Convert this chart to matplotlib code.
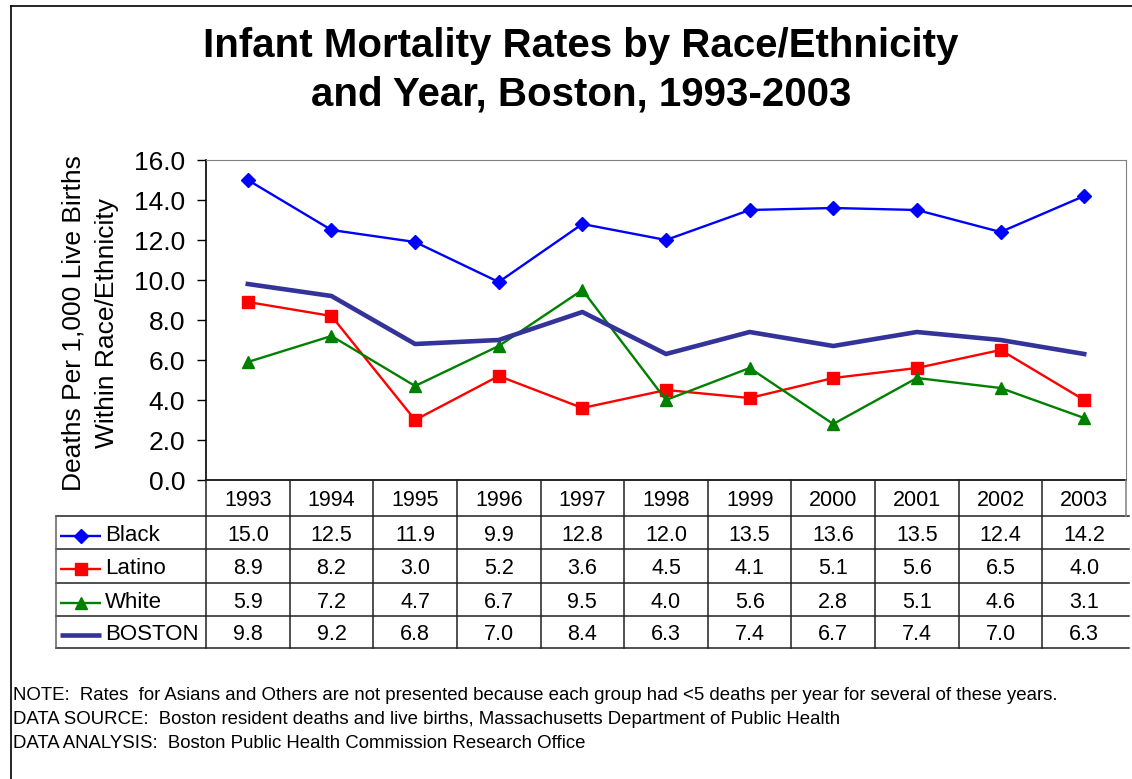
import matplotlib
matplotlib.use('Agg')
import matplotlib.pyplot as plt
from matplotlib.lines import Line2D

plt.rcParams['font.family'] = ['Liberation Sans', 'DejaVu Sans']

# data
years = ['1993', '1994', '1995', '1996', '1997', '1998', '1999', '2000', '2001', '2002', '2003']
black = [15.0, 12.5, 11.9, 9.9, 12.8, 12.0, 13.5, 13.6, 13.5, 12.4, 14.2]
latino = [8.9, 8.2, 3.0, 5.2, 3.6, 4.5, 4.1, 5.1, 5.6, 6.5, 4.0]
white = [5.9, 7.2, 4.7, 6.7, 9.5, 4.0, 5.6, 2.8, 5.1, 4.6, 3.1]
boston = [9.8, 9.2, 6.8, 7.0, 8.4, 6.3, 7.4, 6.7, 7.4, 7.0, 6.3]

series = [
    ('Black', black, '#0000FF', 'D', 7, 1.7),
    ('Latino', latino, '#FF0000', 's', 8.5, 1.7),
    ('White', white, '#008000', '^', 9, 1.7),
    ('BOSTON', boston, '#333399', None, 0, 3.3),
]

# layout in pixels
W, H = 1132, 779
L, R, T, B = 206, 1126, 160, 480
TL = 56
rows = [480, 516, 549, 583, 616, 648]

fig = plt.figure(figsize=(W / 100, H / 100), dpi=100)

# outer frame (top and left)
fig.add_artist(Line2D([11 / W, 11 / W], [0, 1 - 6 / H], color='black', lw=1.2, transform=fig.transFigure))
fig.add_artist(Line2D([11 / W, 1], [1 - 6 / H, 1 - 6 / H], color='black', lw=1.2, transform=fig.transFigure))

fig.text(581 / W, 1 - 46 / H, 'Infant Mortality Rates by Race/Ethnicity', ha='center', va='center',
         fontsize=29, fontweight='bold')
fig.text(581 / W, 1 - 95 / H, 'and Year, Boston, 1993-2003', ha='center', va='center',
         fontsize=29, fontweight='bold')

ax = fig.add_axes([L / W, 1 - B / H, (R - L) / W, (B - T) / H])
x = list(range(len(years)))
for name, vals, col, mk, ms, lw in series:
    ax.plot(x, vals, color=col, marker=mk, markersize=ms, lw=lw, clip_on=False, zorder=3)
ax.set_xlim(-0.5, len(years) - 0.5)
ax.set_ylim(0, 16)
ax.set_yticks([0, 2, 4, 6, 8, 10, 12, 14, 16])
ax.set_yticklabels(['%.1f' % v for v in ax.get_yticks()], fontsize=19)
ax.set_xticks([])
ax.tick_params(axis='y', direction='out', length=6.5, width=1, pad=8.5)
ax.spines['top'].set_color('#808080')
ax.spines['right'].set_color('#808080')
ax.spines['left'].set_linewidth(1.2)
ax.spines['bottom'].set_linewidth(1.2)

fig.text(90 / W, 1 - 323 / H, 'Deaths Per 1,000 Live Births\nWithin Race/Ethnicity', rotation=90,
         ha='center', va='center', fontsize=19, linespacing=1.5, multialignment='center')

# data table below the plot
colw = (R - L) / len(years)
x0 = -0.5 - (L - TL) / colw
tax = fig.add_axes([TL / W, 1 - rows[-1] / H, (R - TL) / W, (rows[-1] - rows[0]) / H])
tax.set_xlim(x0, len(years) - 0.5)
tax.set_ylim(rows[-1], rows[0])
tax.axis('off')

def px(p):
    return x0 + (p - TL) / colw

lc = '#202020'
# horizontal lines
for r in rows[1:]:
    tax.plot([x0, len(years) - 0.5 + 0.03], [r, r], color=lc, lw=1.1, clip_on=False)
# vertical lines
tax.plot([x0, x0], [rows[1], rows[-1]], color='#606060', lw=1.1, clip_on=False)
for i in range(len(years)):
    tax.plot([i - 0.5, i - 0.5], [rows[0], rows[-1]], color=lc, lw=1.1, clip_on=False)
tax.plot([len(years) - 0.5] * 2, [rows[0], rows[1]], color='#808080', lw=1.1, clip_on=False)

for i, y in enumerate(years):
    tax.text(i, (rows[0] + rows[1]) / 2 + 3, y, ha='center', va='center', fontsize=15.5)

for k, (name, vals, col, mk, ms, lw) in enumerate(series):
    yc = (rows[k + 1] + rows[k + 2]) / 2 + 3
    tax.plot([px(60), px(101)], [yc, yc], color=col, lw=lw, solid_capstyle='butt', clip_on=False)
    if mk:
        tax.plot([px(80.5)], [yc], color=col, marker=mk, markersize=ms, clip_on=False)
    tax.text(px(105), yc, name, ha='left', va='center', fontsize=16)
    for i, v in enumerate(vals):
        tax.text(i, yc, '%.1f' % v, ha='center', va='center', fontsize=15.5)

notes = [
    'NOTE:  Rates  for Asians and Others are not presented because each group had <5 deaths per year for several of these years.',
    'DATA SOURCE:  Boston resident deaths and live births, Massachusetts Department of Public Health',
    'DATA ANALYSIS:  Boston Public Health Commission Research Office',
]
for j, t in enumerate(notes):
    fig.text(13 / W, 1 - (695 + j * 24) / H, t, ha='left', va='center', fontsize=13.4)

fig.savefig('out.png', dpi=100)
